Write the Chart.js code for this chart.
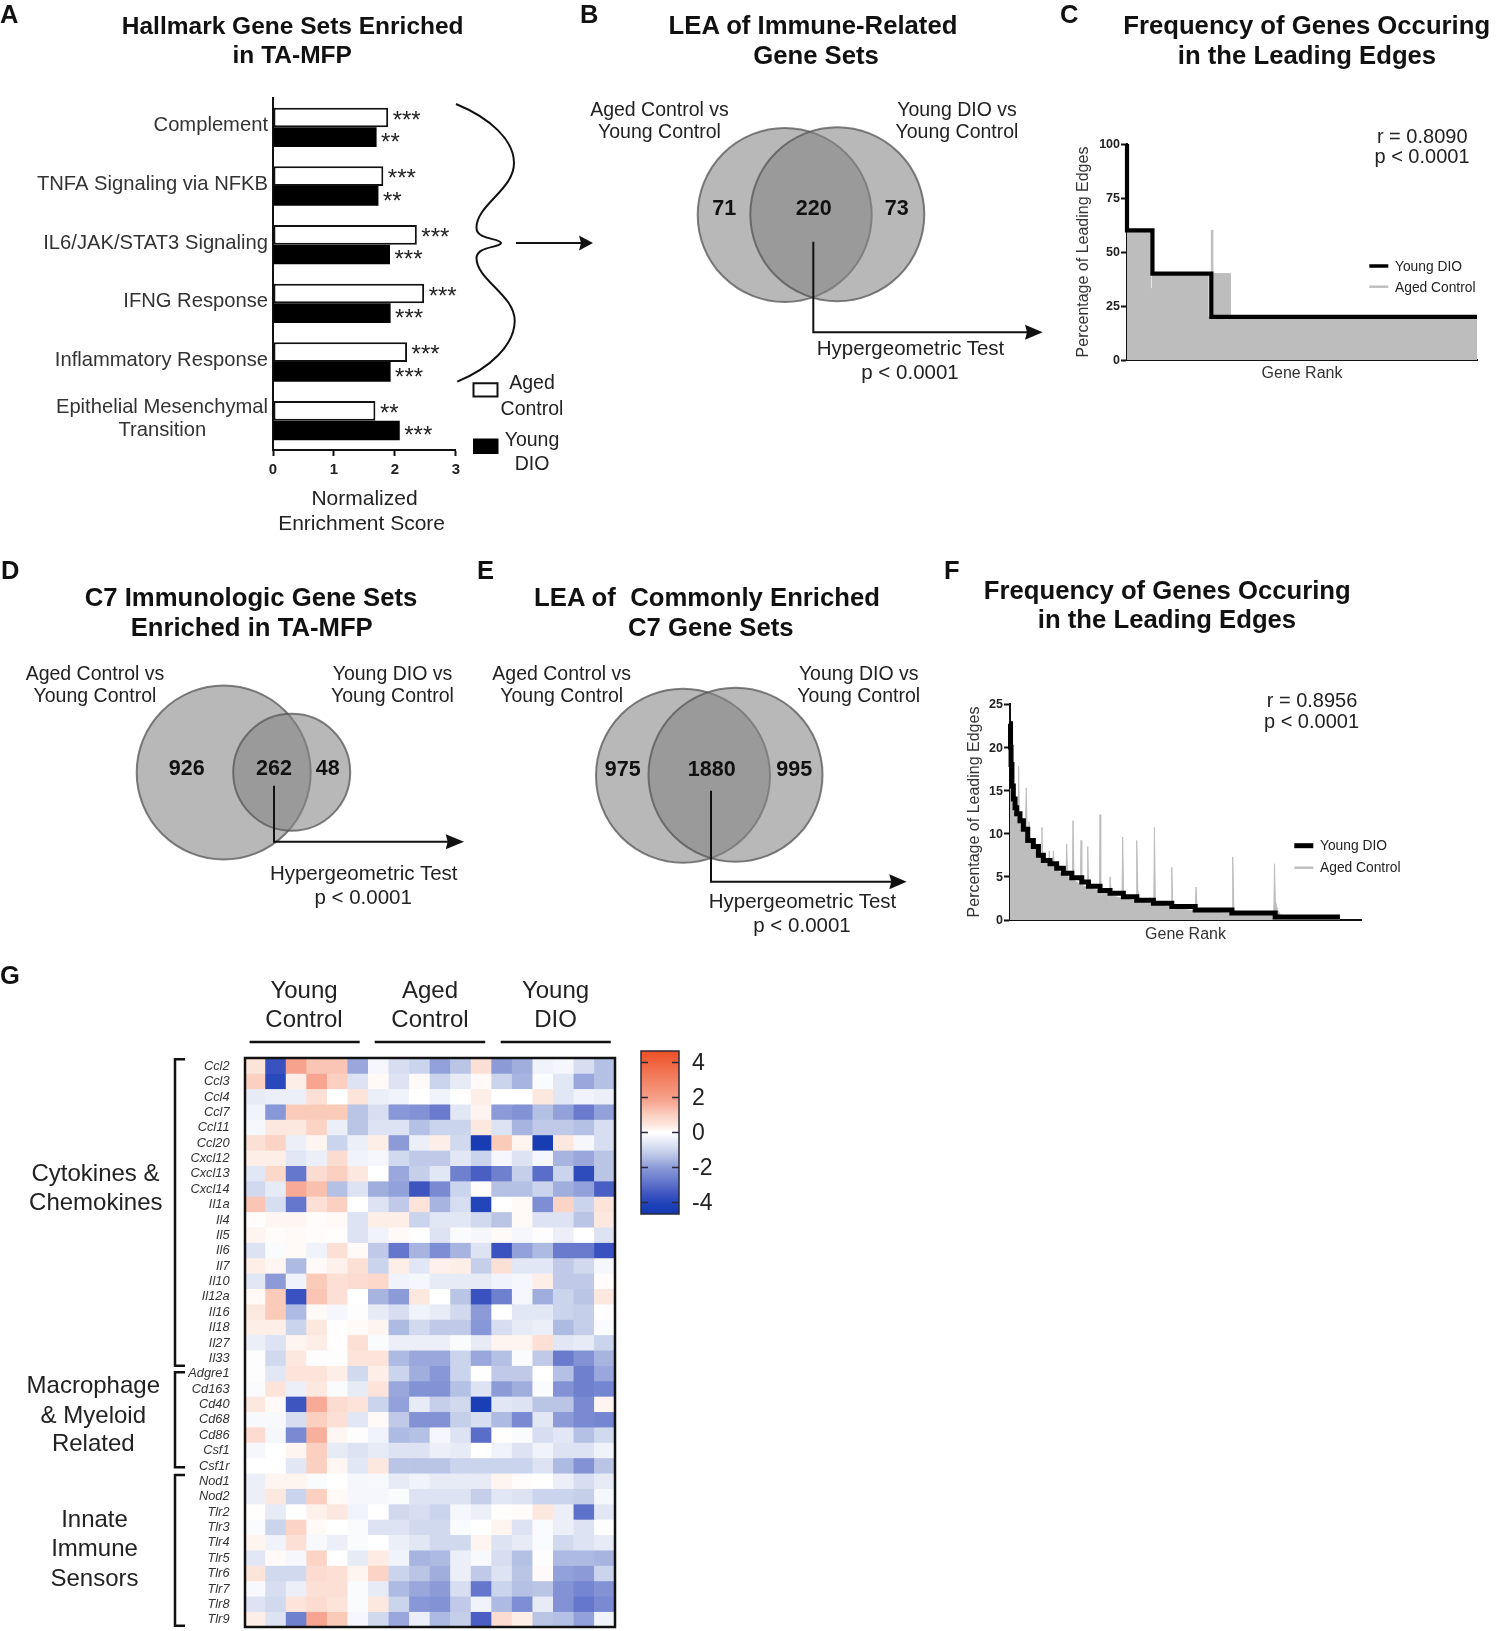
<!DOCTYPE html>
<html>
<head>
<meta charset="utf-8">
<title>TA-MFP enrichment figure</title>
<script src="https://cdn.jsdelivr.net/npm/chart.js@4"></script>
<style>
    html, body { margin: 0; padding: 0; background: #fff; }
    #page { position: relative; width: 1496px; height: 1631px; overflow: hidden; }
    canvas { position: absolute; }
    #overlay { position: absolute; left: 0; top: 0; }
</style>
</head>
<body>
<div id="page">
    <canvas id="barA"></canvas>
    <canvas id="vennB"></canvas>
    <canvas id="lineC"></canvas>
    <canvas id="vennD"></canvas>
    <canvas id="vennE"></canvas>
    <canvas id="lineF"></canvas>
    <canvas id="heatG"></canvas>
    <canvas id="colorBar"></canvas>
    <svg id="overlay" width="1496" height="1631" xmlns="http://www.w3.org/2000/svg"></svg>
</div>
<script>
// panel A
const hallmarkSets = ['Complement', 'TNFA Signaling via NFKB', 'IL6/JAK/STAT3 Signaling', 'IFNG Response', 'Inflammatory Response', ['Epithelial Mesenchymal', 'Transition\u00a0\u00a0\u00a0\u00a0\u00a0\u00a0\u00a0\u00a0\u00a0\u00a0\u00a0']];
const agedNes = [1.89, 1.81, 2.36, 2.48, 2.2, 1.68];
const dioNes = [1.7, 1.73, 1.92, 1.93, 1.93, 2.08];
const agedStars = ['***', '***', '***', '***', '***', '**'];
const dioStars = ['**', '**', '***', '***', '***', '***'];

// venn panels
const vennBCounts = [71, 220, 73];
const vennBx = [104.7, 157.3];
const vennBy = [105, 104.3];
const vennBr = [87, 87];
const vennDCounts = [926, 262, 48];
const vennDx = [103.7, 171.7];
const vennDy = [102.5, 102.3];
const vennDr = [87, 58.5];
const vennECounts = [975, 1880, 995];
const vennEx = [103, 155.5];
const vennEy = [105.7, 104.8];
const vennEr = [87, 87];

// panel C
const cDioRank = [0, 0, 16, 53, 220];
const cDioPct = [100, 60, 40, 20, 20];
const cAgedRank = [0, 14, 15, 16, 51, 53, 54, 65, 220];
const cAgedPct = [60, 60, 33, 39, 20, 60, 40, 20, 20];
const cTicks = [0, 25, 50, 75, 100];

// panel F
const fDioRank = [0, 3, 6, 11, 19, 29, 38, 57, 76, 101, 133, 162, 190, 228, 266, 304, 352, 409, 447, 513, 570, 646, 722, 817, 922, 1055, 1264, 1511, 1880];
const fDioPct = [22.7, 20, 18, 15.5, 14, 13, 12.3, 11.5, 10.5, 9.2, 8.5, 7.5, 6.9, 6.5, 6, 5.4, 4.9, 4.4, 3.9, 3.4, 3.1, 2.7, 2.3, 1.95, 1.55, 1.15, 0.8, 0.35, 0.35];
const fAgedRank = [0, 6, 19, 34, 46, 49, 53, 87, 93, 97, 106, 108, 114, 179, 182, 186, 220, 224, 228, 243, 247, 253, 319, 323, 329, 355, 359, 365, 401, 405, 409, 414, 439, 443, 448, 505, 509, 513, 517, 562, 566, 570, 578, 638, 642, 648, 718, 722, 728, 741, 819, 823, 828, 836, 918, 922, 927, 935, 1055, 1060, 1066, 1074, 1265, 1269, 1275, 1283, 1503, 1507, 1512, 1524, 1539, 1558, 1577, 1880];
const fAgedPct = [18, 16.5, 13.5, 12.5, 12, 17.8, 11.8, 10.3, 15.3, 10.5, 10, 11.4, 9.2, 7.2, 10.7, 7.2, 6.5, 8, 6.4, 6, 8, 6, 5, 8.8, 5, 4.6, 11.5, 4.6, 4.1, 9.2, 2.5, 4, 3.8, 8.5, 3.7, 3.4, 2, 12.2, 3.3, 3, 1, 5, 2.8, 2.5, 9.6, 2.6, 2.2, 9.2, 3.5, 2.2, 1.8, 10.7, 2.2, 1.8, 1.5, 6.1, 2, 1.4, 1.05, 3.8, 1.4, 1.05, 0.75, 7.3, 1.6, 0.8, 0.7, 6.5, 2.2, 1.2, 0.6, 0.5, 0.3, 0.3];
const fTicks = [0, 5, 10, 15, 20, 25];

// panel G
const sampleIds = ['1', '2', '3', '4', '5', '6', '7', '8', '9', '10', '11', '12', '13', '14', '15', '16', '17', '18'];
const geneNames = ['Ccl2', 'Ccl3', 'Ccl4', 'Ccl7', 'Ccl11', 'Ccl20', 'Cxcl12', 'Cxcl13', 'Cxcl14', 'Il1a', 'Il4', 'Il5', 'Il6', 'Il7', 'Il10', 'Il12a', 'Il16', 'Il18', 'Il27', 'Il33', 'Adgre1', 'Cd163', 'Cd40', 'Cd68', 'Cd86', 'Csf1', 'Csf1r', 'Nod1', 'Nod2', 'Tlr2', 'Tlr3', 'Tlr4', 'Tlr5', 'Tlr6', 'Tlr7', 'Tlr8', 'Tlr9'];
const heatValues = [
    [0.5, -3.6, 1.9, 1.2, 1.2, -1.8, -0.2, -0.8, -1.0, -1.9, -1.3, 0.6, -2.0, -1.7, -0.3, -0.2, -0.8, -1.4],
    [1.0, -3.9, 0.3, 1.8, 1.0, -0.7, 0.1, -0.7, 0.1, -1.0, -0.5, 0.1, -1.0, -1.6, -0.1, -0.6, -1.8, -1.4],
    [-0.5, -0.4, -0.4, 0.6, 0, 0.5, -0.4, -0.3, 0, -0.3, 0, 0.3, 0, 0, 0.4, -0.6, -0.3, -0.4],
    [-0.3, -2.1, 1.1, 1.1, 1.1, -1.3, -0.8, -2.1, -2.2, -2.7, -0.6, 0.2, -2.0, -2.2, -1.4, -1.9, -2.7, -1.9],
    [-0.2, 0.4, 0.4, 0.9, -0.4, -1.3, -0.7, -0.7, -1.4, -1.0, -1.0, 0.4, -0.7, -1.6, -1.2, -1.2, -1.4, -0.8],
    [0.6, 0.9, -0.4, 0.2, -1.0, -0.4, 0.3, -2.0, -0.4, 0.3, -0.9, -4.4, 1.1, 0.2, -4.4, 0.4, -0.2, -0.8],
    [0.3, 0.3, -0.6, -0.4, 0.7, -0.3, -0.2, -0.9, -1.2, -1.2, -0.6, -1.0, -0.2, -0.7, -0.2, -1.6, -1.8, -1.3],
    [-0.6, 0.8, -2.8, 0.7, 1.0, 0.4, 0, -1.8, -1.1, -0.6, -2.6, -3.3, -2.6, -1.1, -3.0, -1.0, -3.8, -1.3],
    [-0.9, -0.5, 1.7, 1.3, -1.4, -0.7, -1.7, -1.9, -3.5, -2.4, -1.0, 0.05, -1.4, -1.4, -1.0, -1.7, -1.9, -3.3],
    [1.2, -0.8, -2.8, 0.6, 1.0, 0, -0.7, -1.2, 0.5, -1.6, -0.8, -4.0, 0, 0.1, -2.3, 0.9, -1.0, 0.5],
    [0.05, 0.15, 0.15, 0.05, 0.1, -0.7, 0.3, 0.3, -1.0, -0.6, -0.6, -0.9, -1.3, 0.1, -0.7, -0.7, -1.3, 0.4],
    [0.2, 0.05, 0.1, 0.05, 0.02, -0.7, -0.3, 0.1, 0, -0.7, -0.1, -0.2, 0.1, -0.2, -0.05, -0.4, 0, -0.7],
    [-0.7, -0.1, 0.1, -0.3, 0.6, 0.1, -1.2, -2.8, -1.6, -2.3, -1.6, -0.7, -3.6, -1.9, -1.5, -2.7, -2.7, -3.6],
    [0.3, 0.15, -1.5, 0.1, 0.25, 0.6, -1.0, 0.3, -0.6, 0.25, 0.3, -1.1, 0.6, -0.6, -0.6, -1.2, -0.9, -0.2],
    [-0.6, -2.0, -0.3, 1.1, 0.6, 0.7, 0.8, -0.3, -0.2, -0.5, -0.5, -0.5, -0.3, -0.2, 0.3, -1.2, -1.2, 0.05],
    [0.1, 1.1, -3.6, 1.2, 0.6, 0, -1.6, -2.0, 0.4, 0, -1.3, -3.6, -2.6, -0.2, -1.7, -1.0, -1.3, 0.4],
    [0.4, 1.1, -1.5, 0.1, -0.2, -0.05, -0.5, -0.8, -0.3, -0.5, -0.9, -2.0, 0, -0.6, -0.6, -1.0, -1.1, 0.03],
    [0.3, 0.3, -1.0, 0.4, 0.03, 0.1, 0.2, -1.5, -0.9, -1.2, -1.2, -2.1, -0.8, -0.5, -0.4, -1.5, -1.1, -0.1],
    [-0.4, -0.7, 0.2, 0.3, 0.03, 0.6, -0.1, -0.4, -0.4, -0.4, -0.1, -0.5, 0.2, 0.2, 0.6, -0.6, -0.5, -1.0],
    [-0.05, -0.9, 0.4, -0.05, -0.05, 0.5, 0.5, -1.5, -1.8, -1.8, -1.0, -1.8, -1.4, -0.1, -1.2, -2.7, -2.2, -1.6],
    [-0.05, -0.6, 0.5, 0.5, 0.3, -0.9, 0.3, -1.0, -1.7, -2.1, -1.0, 0, -1.2, -1.2, 0, -1.4, -2.6, -1.8],
    [-0.1, 0.5, -0.4, 0.4, -0.1, -0.5, 0.5, -1.8, -2.2, -2.2, -1.4, -0.7, -2.0, -1.7, -0.1, -2.2, -2.6, -2.5],
    [0.4, 0.1, -3.5, 1.7, 0.7, 0.5, -1.0, -1.9, -0.5, -1.1, -0.9, -4.3, -0.6, -0.7, -1.3, -1.3, -2.4, 0.2],
    [-0.15, -0.15, -0.8, 1.0, 0.6, -0.6, 0.1, -1.2, -2.2, -2.2, -1.1, -0.8, -1.5, -2.4, -0.6, -2.0, -2.4, -2.5],
    [0.7, -0.2, -2.4, 1.6, 0.15, -0.05, -0.3, -1.5, -1.4, -0.2, -0.7, -3.0, 0.02, -0.1, -0.8, -0.6, -1.4, -0.9],
    [-0.2, 0, 0.2, 1.0, -0.5, -0.7, -0.5, -0.7, -0.7, -0.4, -0.5, 0, -0.3, -0.7, -0.3, -0.7, -0.7, -0.3],
    [0, 0, -0.6, 1.0, 0.15, -0.6, 0.4, -1.3, -1.3, -1.3, -1.0, -1.0, -1.0, -1.0, -0.7, -1.5, -2.2, -1.3],
    [-0.4, 0.2, 0.2, -0.1, 0, -0.2, -0.15, -0.5, -0.3, -0.5, -0.5, -0.5, 0.2, 0.05, 0, -0.4, -0.8, -0.5],
    [-0.4, 0.4, -1.0, 1.0, 0.1, -0.2, -0.2, -0.1, -0.7, -0.7, -0.7, -1.1, -0.6, -0.7, -1.0, -1.0, -1.1, -0.2],
    [0.02, -0.5, 0, 0.25, 0.4, -0.3, 0, -0.9, -0.8, -1.0, -0.2, -0.4, 0.02, 0.05, 0.4, -0.4, -2.9, -0.6],
    [-0.1, -1.0, 0.9, 0.1, 0, -0.1, -0.7, -0.7, -0.9, -0.9, -0.1, 0, 0.2, -0.7, -0.1, -0.4, -0.7, -0.05],
    [0.2, -0.3, 0.6, -0.15, -0.4, -0.1, 0, -0.4, -0.6, -0.9, -0.9, 0.2, -0.7, -0.5, -0.1, -0.9, -0.7, -0.5],
    [-0.6, 0.1, -0.2, 0.9, 0, -0.5, 0.35, -0.3, -1.6, -1.5, -0.4, -0.15, -0.8, -1.4, -0.05, -1.5, -1.5, -1.6],
    [0.5, -0.9, -0.9, 0.7, 0.6, 0.2, 0.9, -1.0, -1.3, -1.7, -0.4, -1.2, -0.7, -1.3, 0.08, -1.9, -2.0, -1.0],
    [-0.15, -0.8, -0.4, 0.6, 0.6, -0.1, -0.5, -1.5, -1.8, -2.0, -0.8, -2.8, -1.0, -1.4, -1.3, -2.2, -2.5, -2.2],
    [-0.7, -0.9, 0.5, 0.7, 0.5, -0.1, 0.4, -1.0, -2.1, -2.2, -1.2, -0.3, -1.5, -2.3, -0.5, -2.2, -2.8, -2.4],
    [0.3, -0.7, -2.6, 1.8, 1.1, -0.2, -0.9, -1.8, -0.4, -1.5, -1.1, -3.3, 0.7, 0.3, -1.3, -1.4, -1.9, -0.3]
];
const colorBarTicks = [4, 2, 0, -2, -4];
const colorBarLimit = 4.65;
const colorStopValues = [-4.65, -4.2, -3.5, -2.8, -2, -1.4, -0.7, 0, 0.4, 1, 1.8, 4.65];
const colorStopRgb = [[22, 58, 172], [26, 63, 184], [62, 85, 192], [101, 119, 204], [140, 155, 216], [180, 192, 228], [221, 227, 243], [255, 255, 255], [253, 232, 224], [251, 208, 192], [247, 165, 144], [237, 80, 38]];

Chart.defaults.font.family = '"Liberation Sans", Arial, sans-serif';
Chart.defaults.color = '#222';
Chart.defaults.animation = false;
Chart.defaults.responsive = false;
Chart.defaults.events = [];
Chart.defaults.layout.autoPadding = false;
Chart.defaults.plugins.legend.display = false;
Chart.defaults.plugins.tooltip.enabled = false;

function colorFor(value) {
    let i = 0;
    while (i < colorStopValues.length - 2 && value > colorStopValues[i + 1]) i++;
    const t = Math.max(0, Math.min(1, (value - colorStopValues[i]) / (colorStopValues[i + 1] - colorStopValues[i])));
    const a = colorStopRgb[i], b = colorStopRgb[i + 1];
    return `rgb(${Math.round(a[0] + (b[0] - a[0]) * t)},${Math.round(a[1] + (b[1] - a[1]) * t)},${Math.round(a[2] + (b[2] - a[2]) * t)})`;
}

function place(id, left, top, width, height) {
    const c = document.getElementById(id);
    c.style.left = left + 'px';
    c.style.top = top + 'px';
    c.width = width;
    c.height = height;
    return c;
}

function points(xs, ys) {
    return xs.map((x, i) => ({ x: x, y: ys[i] }));
}

// panel A: l273 r456 t98 b450
const starLabels = {
    id: 'starLabels',
    afterDatasetsDraw(chart) {
        const ctx = chart.ctx;
        ctx.save();
        ctx.fillStyle = '#222';
        ctx.font = '24px "Liberation Sans"';
        ctx.textBaseline = 'alphabetic';
        [agedStars, dioStars].forEach((stars, d) => {
            chart.getDatasetMeta(d).data.forEach((bar, i) => {
                ctx.fillText(stars[i], bar.x + 4.5, bar.y + (d === 0 ? 10 : 13));
            });
        });
        ctx.restore();
    }
};

new Chart(place('barA', 3, 58, 462, 432), {
    type: 'bar',
    data: {
        labels: hallmarkSets,
        datasets: [
            { label: 'Aged Control', data: agedNes, backgroundColor: '#fff', borderColor: '#111', borderWidth: 2, borderSkipped: false },
            { label: 'Young DIO', data: dioNes, backgroundColor: '#000', borderWidth: 0 }
        ]
    },
    options: {
        indexAxis: 'y',
        categoryPercentage: 0.67,
        barPercentage: 1,
        layout: { padding: { top: 40, right: 9 } },
        scales: {
            x: {
                min: 0, max: 3,
                afterFit: s => { s.height = 40; },
                ticks: { stepSize: 1, padding: 5, font: { size: 15, weight: 'bold' }, color: '#222' },
                grid: { drawOnChartArea: false, tickLength: 6, tickColor: '#111', tickWidth: 2 },
                border: { color: '#111', width: 2 }
            },
            y: {
                afterFit: s => { s.width = 270; },
                ticks: { autoSkip: false, padding: 5, font: { size: 20.2, lineHeight: 1.16 }, color: '#333', labelOffset: c => (c.index === 5 ? 7 : -1.5) },
                grid: { display: true, drawOnChartArea: false, drawTicks: false },
                border: { color: '#111', width: 2 }
            }
        }
    },
    plugins: [starLabels]
});

function vennChart(id, left, top, width, height, xs, ys, rs) {
    new Chart(place(id, left, top, width, height), {
        type: 'bubble',
        data: {
            datasets: [{
                label: id,
                data: xs.map((x, i) => ({ x: x, y: ys[i], r: rs[i] })),
                backgroundColor: 'rgba(135,135,135,0.59)',
                borderColor: 'rgba(85,85,85,0.75)',
                borderWidth: 2,
                clip: false
            }]
        },
        options: {
            scales: {
                x: { display: false, min: 0, max: width },
                y: { display: false, min: 0, max: height, reverse: true }
            }
        }
    });
}
vennChart('vennB', 680, 110, 260, 215, vennBx, vennBy, vennBr);
vennChart('vennD', 120, 670, 240, 210, vennDx, vennDy, vennDr);
vennChart('vennE', 580, 670, 260, 210, vennEx, vennEy, vennEr);

function frequencyChart(id, left, top, width, height, marginLeft, plotWidth, bottomMargin, maxRank, maxPct, tickList, dio, aged, dioWidth, agedStepped) {
    new Chart(place(id, left, top, width, height), {
        type: 'line',
        data: {
            datasets: [
                { label: 'Young DIO', data: dio, borderColor: '#000', borderWidth: dioWidth, stepped: 'before', pointRadius: 0, fill: false, clip: false },
                { label: 'Aged Control', data: aged, borderColor: '#bdbdbd', backgroundColor: '#bdbdbd', borderWidth: 1, stepped: agedStepped, pointRadius: 0, fill: 'origin' }
            ]
        },
        options: {
            layout: { padding: { top: 11, right: width - marginLeft - plotWidth } },
            scales: {
                x: {
                    type: 'linear', min: 0, max: maxRank,
                    afterFit: s => { s.height = bottomMargin; },
                    ticks: { display: false },
                    grid: { display: false },
                    border: { color: '#111', width: 2 },
                    title: { display: true, text: 'Gene Rank', font: { size: 16 }, color: '#333', padding: 0 }
                },
                y: {
                    min: 0, max: maxPct,
                    afterFit: s => { s.width = marginLeft; },
                    afterBuildTicks: s => { s.ticks = tickList.map(v => ({ value: v })); },
                    ticks: { padding: 1, labelOffset: 1, font: { size: 12.5, weight: 'bold' }, color: '#222' },
                    grid: { drawOnChartArea: false, tickLength: 6, tickColor: '#111', tickWidth: 2 },
                    border: { color: '#111', width: 2 },
                    title: { display: true, text: 'Percentage of Leading Edges', font: { size: 16 }, color: '#333', padding: 0 }
                }
            }
        }
    });
}
// panel C: l1127 r1477 t144 b360
frequencyChart('lineC', 1074, 133, 413, 250, 53, 350, 23, 220, 100, cTicks, points(cDioRank, cDioPct), points(cAgedRank, cAgedPct), 4.2, 'before');
// panel F: l1010 r1361 t704 b920
frequencyChart('lineF', 965, 693, 406, 251, 45, 351, 24, 2000, 25, fTicks, points(fDioRank, fDioPct), points(fAgedRank, fAgedPct), 5, false);

// panel G: l245 r615 t1058 b1627
const heatFrame = {
    id: 'heatFrame',
    afterDatasetsDraw(chart) {
        const a = chart.chartArea, ctx = chart.ctx;
        ctx.save();
        ctx.strokeStyle = '#111';
        ctx.lineWidth = 2.5;
        ctx.strokeRect(a.left, a.top, a.right - a.left, a.bottom - a.top);
        ctx.restore();
    }
};
new Chart(place('heatG', 165, 1028, 458, 629), {
    type: 'bar',
    data: {
        labels: sampleIds,
        datasets: geneNames.map((gene, r) => ({
            label: gene,
            data: heatValues[r].map(() => [r, r + 1]),
            backgroundColor: heatValues[r].map(colorFor),
            grouped: false,
            borderWidth: 0
        }))
    },
    options: {
        categoryPercentage: 1,
        barPercentage: 1,
        layout: { padding: { top: 30, right: 8, bottom: 30 } },
        scales: {
            x: { display: false },
            y: {
                min: 0, max: geneNames.length, reverse: true,
                afterFit: s => { s.width = 80; },
                afterBuildTicks: s => { s.ticks = geneNames.map((g, i) => ({ value: i + 0.5 })); },
                ticks: { autoSkip: false, padding: 7.5, labelOffset: 0.5, font: { size: 12.8, style: 'italic' }, color: '#333', callback: (v, i) => geneNames[i] },
                grid: { display: false },
                border: { display: false }
            }
        }
    },
    plugins: [heatFrame]
});

// colour bar: l641 r679 t1051 b1214
const barFrame = {
    id: 'barFrame',
    afterDatasetsDraw(chart) {
        const a = chart.chartArea, ctx = chart.ctx, y = chart.scales.y;
        ctx.save();
        ctx.strokeStyle = '#2a2a3a';
        ctx.lineWidth = 1.5;
        ctx.strokeRect(a.left, a.top, a.right - a.left, a.bottom - a.top);
        colorBarTicks.forEach(v => {
            const p = y.getPixelForValue(v);
            ctx.beginPath();
            ctx.moveTo(a.left, p); ctx.lineTo(a.left + 7, p);
            ctx.moveTo(a.right - 7, p); ctx.lineTo(a.right, p);
            ctx.stroke();
        });
        ctx.restore();
    }
};
new Chart(place('colorBar', 631, 1021, 90, 223), {
    type: 'bar',
    data: {
        labels: ['z-score'],
        datasets: [{
            label: 'z-score',
            data: [[-colorBarLimit, colorBarLimit]],
            borderWidth: 0,
            backgroundColor: c => {
                const a = c.chart.chartArea;
                if (!a) return '#fff';
                const g = c.chart.ctx.createLinearGradient(0, a.top, 0, a.bottom);
                colorStopValues.forEach(v => g.addColorStop((colorBarLimit - v) / (2 * colorBarLimit), colorFor(v)));
                return g;
            }
        }]
    },
    options: {
        categoryPercentage: 1,
        barPercentage: 1,
        layout: { padding: { top: 30, left: 10, bottom: 30 } },
        scales: {
            x: { display: false },
            y: {
                position: 'right',
                min: -colorBarLimit, max: colorBarLimit,
                afterFit: s => { s.width = 42; },
                afterBuildTicks: s => { s.ticks = colorBarTicks.map(v => ({ value: v })); },
                ticks: { padding: 5, labelOffset: 1.5, font: { size: 23 }, color: '#222', callback: v => String(v) },
                grid: { display: false },
                border: { display: false }
            }
        }
    },
    plugins: [barFrame]
});

// text and annotation overlay
const svg = document.getElementById('overlay');
const svgNS = 'http://www.w3.org/2000/svg';

function note(str, x, y, size, anchor, weight, fill) {
    const t = document.createElementNS(svgNS, 'text');
    t.setAttribute('x', x);
    t.setAttribute('y', y);
    t.setAttribute('font-family', '"Liberation Sans", Arial, sans-serif');
    t.setAttribute('font-size', size);
    t.setAttribute('text-anchor', anchor || 'middle');
    t.setAttribute('font-weight', weight || 'normal');
    t.setAttribute('fill', fill || '#222');
    t.style.whiteSpace = 'pre';
    t.textContent = str;
    svg.appendChild(t);
}

function path(d, width, fill, stroke) {
    const p = document.createElementNS(svgNS, 'path');
    p.setAttribute('d', d);
    p.setAttribute('stroke-width', width);
    p.setAttribute('fill', fill || 'none');
    p.setAttribute('stroke', stroke || '#111');
    svg.appendChild(p);
}

function title(a, ax, b, bx, y, size) {
    note(a, ax, y, size || 25.7, 'middle', 'bold', '#111');
    note(b, bx, y + 29.7, size || 25.7, 'middle', 'bold', '#111');
}

function arrowHead(tipX, y, baseX) {
    path(`M${tipX},${y} L${baseX},${y - 7.5} L${baseX + 2},${y} L${baseX},${y + 7.5} Z`, 0, '#111', 'none');
}

// panel letters
note('A', 0, 23, 25.5, 'start', 'bold', '#111');
note('B', 580, 23, 25.5, 'start', 'bold', '#111');
note('C', 1060, 23, 25.5, 'start', 'bold', '#111');
note('D', 1, 578.5, 25.5, 'start', 'bold', '#111');
note('E', 477, 578.5, 25.5, 'start', 'bold', '#111');
note('F', 944, 578.5, 25.5, 'start', 'bold', '#111');
note('G', 0, 984, 25.5, 'start', 'bold', '#111');

title('Hallmark Gene Sets Enriched', 292.7, 'in TA-MFP', 292.2, 33.5, 24.5);
title('LEA of Immune-Related', 813, 'Gene Sets', 816, 34.3);
title('Frequency of Genes Occuring', 1306.7, 'in the Leading Edges', 1307, 34.3);
title('C7 Immunologic Gene Sets', 251, 'Enriched in TA-MFP', 251.7, 606);
title('LEA of  Commonly Enriched', 707, 'C7 Gene Sets', 710.8, 606);
title('Frequency of Genes Occuring', 1167.3, 'in the Leading Edges', 1167, 598.5);

// panel A extras
note('Normalized', 364.5, 505, 21);
note('Enrichment Score', 361.6, 530, 21);
note('Aged', 532, 388.6, 19.5);
note('Control', 532, 414.6, 19.5);
note('Young', 532, 445.5, 19.5);
note('DIO', 532, 470, 19.5);
path('M473.5,383.3 H497.5 V396.5 H473.5 Z', 2, '#fff');
path('M473,438.5 H498.5 V454 H473 Z', 0, '#000', 'none');
path('M456,104 C490,118 514,140 514,163 C514,190 476,205 476.5,228 C476.5,240 500,238 501,243 C500,248 476.5,246 476.5,258 C476.5,280 515,295 514.7,321 C514.5,345 490,368 457.3,381.6', 2);
path('M516,243 H582', 2);
arrowHead(593, 243, 579);

// venn captions
function vennCaptions(lx, rx, y) {
    note('Aged Control vs', lx, y, 19.5);
    note('Young Control', lx, y + 22, 19.5);
    note('Young DIO vs', rx, y, 19.5);
    note('Young Control', rx, y + 22, 19.5);
}
vennCaptions(659.5, 957, 115.7);
vennCaptions(95, 392.5, 680);
vennCaptions(561.7, 858.7, 680);

function vennCounts(counts, xs, y) {
    counts.forEach((n, i) => note(String(n), xs[i], y, 21.5, 'middle', 'bold', '#111'));
}
vennCounts(vennBCounts, [724.3, 813.7, 896.7], 215.3);
vennCounts(vennDCounts, [186.7, 274, 327.7], 775);
vennCounts(vennECounts, [622.7, 711.7, 794.3], 776);

function hyperArrow(x, y0, y1, tip, baseX) {
    path(`M${x},${y0} V${y1} H${baseX + 4}`, 2);
    arrowHead(tip, y1, baseX);
}
hyperArrow(813.3, 241.7, 332.3, 1042.7, 1025);
hyperArrow(274, 785.7, 841.7, 464, 445.7);
hyperArrow(711, 790.7, 881.7, 906.7, 889.3);

function hyperText(x, y) {
    note('Hypergeometric Test', x, y, 20.5);
    note('p < 0.0001', x - 0.5, y + 24, 20.5);
}
hyperText(910.5, 355);
hyperText(363.7, 880);
hyperText(802.5, 908.3);

// correlation notes and line legends
note('r = 0.8090', 1422.2, 142.7, 20);
note('p < 0.0001', 1422, 163.3, 20);
note('r = 0.8956', 1312, 707.3, 20);
note('p < 0.0001', 1311.5, 728.3, 20);

function lineLegend(x0, x1, textX, y0, y1, w0, tb0, tb1) {
    path(`M${x0},${y0} H${x1}`, w0, 'none', '#000');
    path(`M${x0},${y1} H${x1}`, 2.4, 'none', '#bdbdbd');
    note('Young DIO', textX, tb0, 13.8, 'start');
    note('Aged Control', textX, tb1, 13.8, 'start');
}
lineLegend(1369.3, 1388.3, 1395, 266, 286.7, 3.5, 270.7, 291.7);
lineLegend(1294.3, 1313.3, 1320, 845.7, 867.7, 5, 850, 871.7);

// panel G extras
[['Young', 'Control', 304], ['Aged', 'Control', 430], ['Young', 'DIO', 555.5]].forEach(g => {
    note(g[0], g[2], 998.3, 24);
    note(g[1], g[2], 1026.7, 24);
});
path('M249.6,1042 H359.7 M374.7,1042 H485.2 M500.7,1042 H610.8', 2.5);

note('Cytokines &', 95.5, 1181.2, 24);
note('Chemokines', 95.8, 1210, 24);
note('Macrophage', 93.3, 1393.3, 24);
note('& Myeloid', 93.3, 1422.7, 24);
note('Related', 93.3, 1451, 24);
note('Innate', 94.5, 1526.7, 24);
note('Immune', 94.5, 1556, 24);
note('Sensors', 94.5, 1585.5, 24);

path('M185,1059.3 H175 V1365.7 H185 M185,1372.3 H175 V1467.3 H185 M185,1475 H175 V1625.7 H185', 2.5);
</script>
</body>
</html>
